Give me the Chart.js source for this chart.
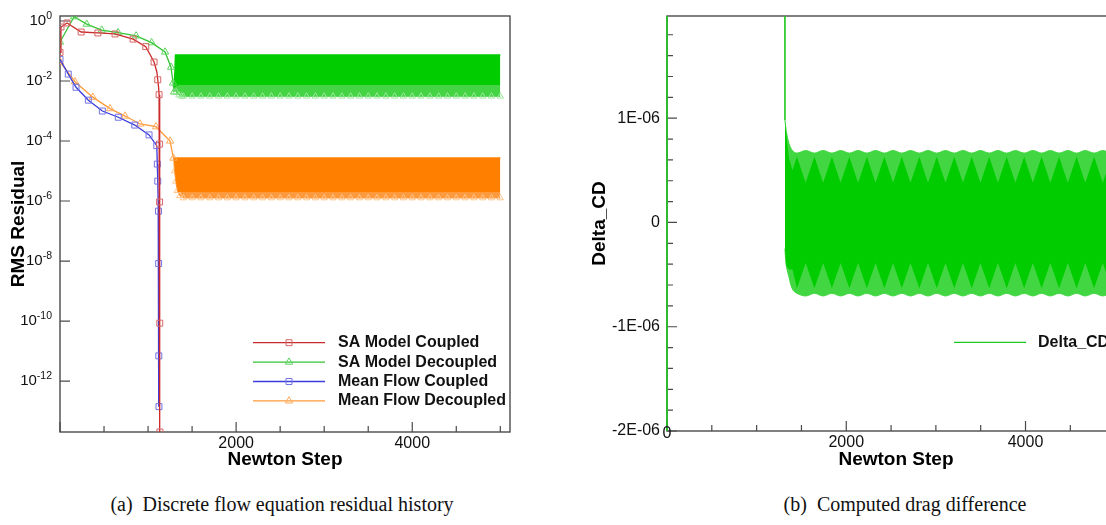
<!DOCTYPE html>
<html>
<head>
<meta charset="utf-8">
<script src="https://cdn.jsdelivr.net/npm/chart.js@4.4.1/dist/chart.umd.min.js"></script>
<style>
  html, body { margin: 0; padding: 0; background: #fff; }
  body { position: relative; width: 1106px; height: 525px; overflow: hidden; }
  #panelA { position: absolute; left: 0; top: 0; width: 580px; height: 480px; }
  #panelB { position: absolute; left: 580px; top: 0; width: 600px; height: 480px; }
  .caption {
    position: absolute; top: 493px; transform: translateX(-50%);
    font-family: "Liberation Serif", "Times New Roman", serif; font-size: 20px;
    color: #111; white-space: nowrap;
  }
</style>
</head>
<body>
<div id="panelA"><canvas id="residualChart" width="580" height="480"></canvas></div>
<div id="panelB"><canvas id="dragChart" width="600" height="480"></canvas></div>
<div class="caption" style="left:282px">(a)&nbsp; Discrete flow equation residual history</div>
<div class="caption" style="left:905px">(b)&nbsp; Computed drag difference</div>

<script>
// ---------------- residual history (left panel) ----------------
const saCoupledStep = [0, 11, 80, 240, 430, 625, 830, 974, 1068, 1100, 1110, 1120, 1125, 1129, 1131, 1133, 1135];
const saCoupledRes  = [0.09, 0.63, 0.86, 0.43, 0.40, 0.37, 0.25, 0.14, 0.043, 0.02, 0.011, 6e-3, 3.5e-3, 7.9e-5, 9.3e-7, 8.5e-11, 2e-14];
const saCoupledMark = [1, 1, 1, 1, 1, 1, 1, 1, 1, 0, 1, 0, 1, 1, 1, 1, 1];

const saDecoupledStep = [0, 160, 303, 474, 660, 864, 1040, 1193, 1261, 1284, 1295];
const saDecoupledRes  = [0.2, 1.39, 0.79, 0.50, 0.41, 0.32, 0.19, 0.093, 0.029, 8.6e-3, 4.3e-3];
const saDecoupledMark = [1, 1, 1, 1, 1, 1, 1, 1, 1, 1, 1];

const mfCoupledStep = [0, 94, 182, 322, 481, 662, 849, 1011, 1099, 1105, 1110, 1115, 1118, 1120, 1122, 1124];
const mfCoupledRes  = [0.053, 0.017, 6.2e-3, 2.3e-3, 1.0e-3, 6.2e-4, 3.4e-4, 1.6e-4, 7e-5, 1.7e-5, 4.6e-6, 9.5e-7, 4.6e-7, 8.3e-9, 6.9e-12, 1.4e-13];
const mfCoupledMark = [1, 1, 1, 1, 1, 1, 1, 1, 1, 1, 1, 0, 1, 1, 1, 1];

const mfDecoupledStep = [0, 170, 372, 568, 739, 909, 1090, 1250, 1270, 1288];
const mfDecoupledRes  = [0.044, 9.5e-3, 2.9e-3, 1.2e-3, 6.8e-4, 3.7e-4, 3.0e-4, 1.0e-4, 5e-5, 2.7e-5];
const mfDecoupledMark = [1, 1, 1, 1, 1, 1, 1, 1, 0, 1];

// limit-cycle bands of the decoupled runs: peak envelope, dense core edge, trough envelope
const saBandTopStep = [1298, 1312, 5000];
const saBandTop     = [6e-3, 0.074, 0.074];
const saBandMidStep = [1300, 1320, 1360, 5000];
const saBandMid     = [6e-3, 6.5e-3, 7.4e-3, 7.4e-3];
const saBandLowStep = [1300, 1320, 1350, 1380, 1400, 1500, 1600, 1700, 1800, 1900, 2000, 2100, 2200, 2300, 2400,
  2500, 2600, 2700, 2800, 2900, 3000, 3100, 3200, 3300, 3400, 3500, 3600, 3700, 3800, 3900, 4000, 4100, 4200,
  4300, 4400, 4500, 4600, 4700, 4800, 4900, 5000];
const saBandLow = [6e-3, 4.3e-3, 3.4e-3, 3.1e-3, 3.1e-3, 3.1e-3, 3.1e-3, 3.1e-3, 3.1e-3, 3.1e-3, 3.1e-3, 3.1e-3, 3.1e-3,
  3.1e-3, 3.1e-3, 3.1e-3, 3.1e-3, 3.1e-3, 3.1e-3, 3.1e-3, 3.1e-3, 3.1e-3, 3.1e-3, 3.1e-3, 3.1e-3, 3.1e-3, 3.1e-3,
  3.1e-3, 3.1e-3, 3.1e-3, 3.1e-3, 3.1e-3, 3.1e-3, 3.1e-3, 3.1e-3, 3.1e-3, 3.1e-3, 3.1e-3, 3.1e-3, 3.1e-3, 3.1e-3];

const mfBandTopStep = [1288, 1298, 5000];
const mfBandTop     = [2.7e-5, 2.7e-5, 2.7e-5];
const mfBandMidStep = [1290, 1315, 1340, 5000];
const mfBandMid     = [2.7e-5, 4.5e-6, 2.0e-6, 2.0e-6];
const mfBandLowStep = [1290, 1300, 1315, 1330, 1360, 1400, 1500, 1600, 1700, 1800, 1900, 2000, 2100, 2200, 2300, 2400,
  2500, 2600, 2700, 2800, 2900, 3000, 3100, 3200, 3300, 3400, 3500, 3600, 3700, 3800, 3900, 4000, 4100, 4200,
  4300, 4400, 4500, 4600, 4700, 4800, 4900, 5000];
const mfBandLow = [2.7e-5, 1e-5, 4.5e-6, 2.2e-6, 1.5e-6, 1.26e-6, 1.26e-6, 1.26e-6, 1.26e-6, 1.26e-6, 1.26e-6, 1.26e-6,
  1.26e-6, 1.26e-6, 1.26e-6, 1.26e-6, 1.26e-6, 1.26e-6, 1.26e-6, 1.26e-6, 1.26e-6, 1.26e-6, 1.26e-6, 1.26e-6,
  1.26e-6, 1.26e-6, 1.26e-6, 1.26e-6, 1.26e-6, 1.26e-6, 1.26e-6, 1.26e-6, 1.26e-6, 1.26e-6, 1.26e-6, 1.26e-6,
  1.26e-6, 1.26e-6, 1.26e-6, 1.26e-6, 1.26e-6, 1.26e-6];

const residualDecades = [0, -2, -4, -6, -8, -10, -12];
const stepTickValues  = [2000, 4000];
const stepTickLabels  = ['2000', '4000'];
const stepMinorTicks  = [500, 1000, 1500, 2500, 3000, 3500, 4500, 5000];

// ---------------- drag difference (right panel) ----------------
const cdStep  = [0, 0, 1315, 1316];
const cdValue = [-4e-6, 4e-6, 4e-6, 0.98e-6];

const cdBandStep = [1316, 1330, 1360, 1400, 1450, 1547, 1645, 1742, 1840, 1937, 2035, 2132, 2230, 2327, 2425, 2522,
  2620, 2717, 2815, 2912, 3010, 3107, 3205, 3302, 3400, 3497, 3595, 3692, 3790, 3887, 3985, 4082, 4180, 4277,
  4375, 4472, 4570, 4667, 4765, 4862, 4960, 5057, 5110];
const cdBandHigh = [0.98e-6, 0.88e-6, 0.76e-6, 0.69e-6, 0.665e-6, 0.69e-6, 0.665e-6, 0.69e-6, 0.665e-6, 0.69e-6,
  0.665e-6, 0.69e-6, 0.665e-6, 0.69e-6, 0.665e-6, 0.69e-6, 0.665e-6, 0.69e-6, 0.665e-6, 0.69e-6, 0.665e-6,
  0.69e-6, 0.665e-6, 0.69e-6, 0.665e-6, 0.69e-6, 0.665e-6, 0.69e-6, 0.665e-6, 0.69e-6, 0.665e-6, 0.69e-6,
  0.665e-6, 0.69e-6, 0.665e-6, 0.69e-6, 0.665e-6, 0.69e-6, 0.665e-6, 0.69e-6, 0.665e-6, 0.69e-6, 0.665e-6];
const cdCoreHigh = [0.98e-6, 0.85e-6, 0.62e-6, 0.5e-6, 0.63e-6, 0.38e-6, 0.63e-6, 0.38e-6, 0.63e-6, 0.38e-6,
  0.63e-6, 0.38e-6, 0.63e-6, 0.38e-6, 0.63e-6, 0.38e-6, 0.63e-6, 0.38e-6, 0.63e-6, 0.38e-6, 0.63e-6,
  0.38e-6, 0.63e-6, 0.38e-6, 0.63e-6, 0.38e-6, 0.63e-6, 0.38e-6, 0.63e-6, 0.38e-6, 0.63e-6, 0.38e-6,
  0.63e-6, 0.38e-6, 0.63e-6, 0.38e-6, 0.63e-6, 0.38e-6, 0.63e-6, 0.38e-6, 0.63e-6, 0.38e-6, 0.63e-6];
const cdCoreLow = [-0.25e-6, -0.41e-6, -0.45e-6, -0.45e-6, -0.63e-6, -0.39e-6, -0.63e-6, -0.39e-6, -0.63e-6, -0.39e-6,
  -0.63e-6, -0.39e-6, -0.63e-6, -0.39e-6, -0.63e-6, -0.39e-6, -0.63e-6, -0.39e-6, -0.63e-6, -0.39e-6, -0.63e-6,
  -0.39e-6, -0.63e-6, -0.39e-6, -0.63e-6, -0.39e-6, -0.63e-6, -0.39e-6, -0.63e-6, -0.39e-6, -0.63e-6, -0.39e-6,
  -0.63e-6, -0.39e-6, -0.63e-6, -0.39e-6, -0.63e-6, -0.39e-6, -0.63e-6, -0.39e-6, -0.63e-6, -0.39e-6, -0.63e-6];
const cdBandLow = [-0.25e-6, -0.41e-6, -0.52e-6, -0.64e-6, -0.68e-6, -0.705e-6, -0.68e-6, -0.705e-6, -0.68e-6, -0.705e-6,
  -0.68e-6, -0.705e-6, -0.68e-6, -0.705e-6, -0.68e-6, -0.705e-6, -0.68e-6, -0.705e-6, -0.68e-6, -0.705e-6, -0.68e-6,
  -0.705e-6, -0.68e-6, -0.705e-6, -0.68e-6, -0.705e-6, -0.68e-6, -0.705e-6, -0.68e-6, -0.705e-6, -0.68e-6, -0.705e-6,
  -0.68e-6, -0.705e-6, -0.68e-6, -0.705e-6, -0.68e-6, -0.705e-6, -0.68e-6, -0.705e-6, -0.68e-6, -0.705e-6, -0.68e-6];

const deltaTickValues = [-2e-6, -1e-6, 0, 1e-6];
const deltaTickLabels = ['-2E-06', '-1E-06', '0', '1E-06'];
const deltaMinorStep  = 2e-7;
const cdStepTickValues = [0, 2000, 4000];
const cdStepTickLabels = ['0', '2000', '4000'];

// ---------------- helpers ----------------
const SANS = '"Liberation Sans", Arial, Helvetica, sans-serif';
Chart.defaults.font.family = SANS;

function points(steps, vals) {
  return steps.map((s, i) => ({ x: s, y: vals[i] }));
}
function radii(marks, r) {
  return marks.map(m => (m ? r : 0));
}

// inward tick marks, plot frame and tick labels in the Tecplot manner
const axisFrame = {
  id: 'axisFrame',
  beforeDatasetsDraw(chart, args, o) {
    const { ctx, chartArea: a, scales: { x, y } } = chart;
    ctx.save();
    ctx.strokeStyle = '#4a4a4a';
    ctx.lineWidth = 1.4;
    ctx.strokeRect(a.left, a.top, a.right - a.left, a.bottom - a.top);
    ctx.lineWidth = 1.2;
    ctx.beginPath();
    (o.xMajor || []).forEach(v => { const p = x.getPixelForValue(v); ctx.moveTo(p, a.bottom); ctx.lineTo(p, a.bottom - 10); });
    (o.xMinor || []).forEach(v => { const p = x.getPixelForValue(v); ctx.moveTo(p, a.bottom); ctx.lineTo(p, a.bottom - 6); });
    (o.yMajor || []).forEach(v => { const p = y.getPixelForValue(v); ctx.moveTo(a.left, p); ctx.lineTo(a.left + 10, p); });
    (o.yMinor || []).forEach(v => { const p = y.getPixelForValue(v); ctx.moveTo(a.left, p); ctx.lineTo(a.left + 6, p); });
    ctx.stroke();
    ctx.restore();
  },
  afterDatasetsDraw(chart, args, o) {
    const { ctx, chartArea: a, scales: { x, y } } = chart;
    ctx.save();
    ctx.fillStyle = '#111';
    ctx.textBaseline = 'middle';
    // step labels under the axis
    ctx.font = '16px ' + SANS;
    ctx.textAlign = 'center';
    (o.xLabels || []).forEach((t, i) => {
      const v = o.xLabelValues[i];
      // the origin label sits tucked into the corner
      const dy = v === 0 ? 3 : 12;
      ctx.fillText(t, x.getPixelForValue(v), a.bottom + dy);
    });
    // plain y labels
    ctx.textAlign = 'right';
    (o.yLabels || []).forEach((t, i) => {
      ctx.fillText(t, a.left - 7, y.getPixelForValue(o.yLabelValues[i]));
    });
    // power-of-ten labels with raised exponents
    (o.decades || []).forEach(e => {
      const py = y.getPixelForValue(Math.pow(10, e));
      const sup = String(e);
      ctx.font = '10.5px ' + SANS;
      const sw = ctx.measureText(sup).width;
      const right = a.left - 8;
      ctx.textAlign = 'left';
      ctx.fillText(sup, right - sw, py - 5);
      ctx.font = '15px ' + SANS;
      ctx.textAlign = 'right';
      ctx.fillText('10', right - sw, py);
    });
    ctx.restore();
  }
};

// series key: line sample, symbol in the middle, bold name
const seriesKey = {
  id: 'seriesKey',
  afterDatasetsDraw(chart, args, o) {
    if (!o || o.x0 === undefined) return;
    const ctx = chart.ctx;
    const items = chart.data.datasets.filter(d => d.inKey);
    ctx.save();
    items.forEach((d, i) => {
      const yy = o.top + i * o.gap;
      ctx.strokeStyle = d.borderColor;
      ctx.lineWidth = 1.3;
      ctx.beginPath(); ctx.moveTo(o.x0, yy); ctx.lineTo(o.x1, yy); ctx.stroke();
      if (d.keySymbol) {
        ctx.strokeStyle = d.pointBorderColor;
        ctx.fillStyle = 'rgba(0,0,0,0)';
        ctx.lineWidth = 1;
        Chart.helpers.drawPoint(ctx, { pointStyle: d.pointStyle, radius: 4.2, borderWidth: 1, rotation: 0 }, (o.x0 + o.x1) / 2, yy);
      }
      ctx.fillStyle = '#111';
      ctx.font = 'bold 16px ' + SANS;
      ctx.textAlign = 'left';
      ctx.textBaseline = 'middle';
      ctx.fillText(d.label, o.textX, yy);
    });
    ctx.restore();
  }
};

const titleFont = { family: SANS, size: 19, weight: 'bold' };

// ---------------- left chart ----------------
const RED = '#cc2a2a', RED_SYM = '#d86464';
const GRN = '#35c435', GRN_SYM = '#5fd35f';
const BLU = '#3c3cdc', BLU_SYM = '#7272e4';
const ORG = '#ff9a3a', ORG_SYM = '#ffaa5c';

new Chart(document.getElementById('residualChart'), {
  type: 'line',
  data: {
    datasets: [
      { label: 'SA Model Coupled', inKey: true, keySymbol: true, data: points(saCoupledStep, saCoupledRes),
        borderColor: RED, borderWidth: 1.3, pointStyle: 'rect', pointRadius: radii(saCoupledMark, 4.2),
        pointBorderColor: RED_SYM, pointBackgroundColor: 'rgba(0,0,0,0)', pointBorderWidth: 1, fill: false },
      { label: 'SA Model Decoupled', inKey: true, keySymbol: true, data: points(saDecoupledStep, saDecoupledRes),
        borderColor: GRN, borderWidth: 1.3, pointStyle: 'triangle', pointRadius: radii(saDecoupledMark, 4.2),
        pointBorderColor: GRN_SYM, pointBackgroundColor: 'rgba(0,0,0,0)', pointBorderWidth: 1, fill: false },
      { label: 'Mean Flow Coupled', inKey: true, keySymbol: true, data: points(mfCoupledStep, mfCoupledRes),
        borderColor: BLU, borderWidth: 1.3, pointStyle: 'rect', pointRadius: radii(mfCoupledMark, 4.2),
        pointBorderColor: BLU_SYM, pointBackgroundColor: 'rgba(0,0,0,0)', pointBorderWidth: 1, fill: false },
      { label: 'Mean Flow Decoupled', inKey: true, keySymbol: true, data: points(mfDecoupledStep, mfDecoupledRes),
        borderColor: ORG, borderWidth: 1.3, pointStyle: 'triangle', pointRadius: radii(mfDecoupledMark, 4.2),
        pointBorderColor: ORG_SYM, pointBackgroundColor: 'rgba(0,0,0,0)', pointBorderWidth: 1, fill: false },
      // SA decoupled band (datasets 4-6)
      { label: 'sa peaks', data: points(saBandTopStep, saBandTop), borderColor: '#00cc00', borderWidth: 1.5,
        pointRadius: 0, fill: false },
      { label: 'sa core', data: points(saBandMidStep, saBandMid), borderColor: 'rgba(0,0,0,0)', borderWidth: 0,
        pointRadius: 0, fill: { target: 4 }, backgroundColor: '#00cc00' },
      { label: 'sa troughs', data: points(saBandLowStep, saBandLow), borderColor: '#3fd33f', borderWidth: 1,
        pointStyle: 'triangle', pointRadius: saBandLowStep.map((s, i) => (i ? 3.6 : 0)),
        pointBorderColor: '#9ce89c', pointBackgroundColor: 'rgba(0,0,0,0)', pointBorderWidth: 1,
        fill: { target: 5 }, backgroundColor: '#44d444' },
      // mean flow decoupled band (datasets 7-9)
      { label: 'mf peaks', data: points(mfBandTopStep, mfBandTop), borderColor: '#ff8000', borderWidth: 1.5,
        pointRadius: 0, fill: false },
      { label: 'mf core', data: points(mfBandMidStep, mfBandMid), borderColor: 'rgba(0,0,0,0)', borderWidth: 0,
        pointRadius: 0, fill: { target: 7 }, backgroundColor: '#ff8000' },
      { label: 'mf troughs', data: points(mfBandLowStep, mfBandLow), borderColor: '#ff9a3a', borderWidth: 1,
        pointStyle: 'triangle', pointRadius: mfBandLowStep.map((s, i) => (i ? 3.6 : 0)),
        pointBorderColor: '#ffc58c', pointBackgroundColor: 'rgba(0,0,0,0)', pointBorderWidth: 1,
        fill: { target: 8 }, backgroundColor: '#ff9a3c' }
    ]
  },
  options: {
    responsive: false, devicePixelRatio: 1, animation: false,
    elements: { line: { tension: 0 } },
    layout: { padding: { left: 0, top: 16, right: 70, bottom: 0 } },
    scales: {
      x: { type: 'linear', min: 0, max: 5110,
        ticks: { display: false }, grid: { display: false }, border: { display: false },
        title: { display: true, text: 'Newton Step', font: titleFont, color: '#000', padding: { top: 0, bottom: 8.6 } },
        afterFit(s) { s.height = 48; } },
      y: { type: 'logarithmic', min: 2e-14, max: 1.47,
        ticks: { display: false }, grid: { display: false }, border: { display: false },
        title: { display: true, text: 'RMS Residual', font: titleFont, color: '#000', padding: { top: 6.9, bottom: 0 } },
        afterFit(s) { s.width = 60; } }
    },
    plugins: {
      legend: { display: false }, tooltip: { enabled: false },
      axisFrame: {
        xMajor: [0].concat(stepTickValues), xMinor: stepMinorTicks,
        xLabels: stepTickLabels, xLabelValues: stepTickValues,
        yMajor: residualDecades.map(e => Math.pow(10, e)), decades: residualDecades
      },
      seriesKey: { x0: 253, x1: 325, textX: 338, top: 342.7, gap: 19.4 }
    }
  },
  plugins: [axisFrame, seriesKey]
});

// ---------------- right chart ----------------
const deltaMinor = [];
for (let v = -2e-6; v < 1.98e-6; v += deltaMinorStep) {
  const r = Math.round(v / 1e-8) * 1e-8;
  if (Math.abs(Math.round(r / 1e-6) * 1e-6 - r) > 1e-9) deltaMinor.push(r);
}
const CD = '#1fc81f';

new Chart(document.getElementById('dragChart'), {
  type: 'line',
  data: {
    datasets: [
      { label: 'Delta_CD', inKey: true, keySymbol: false, data: points(cdStep, cdValue),
        borderColor: CD, borderWidth: 1.6, pointRadius: 0, fill: false,
        clip: { left: 3, top: 0, right: 0, bottom: 0 } },
      // dense core of the oscillation (datasets 1-2)
      { label: 'cd core upper', data: points(cdBandStep, cdCoreHigh), borderColor: 'rgba(0,0,0,0)', borderWidth: 0,
        pointRadius: 0, fill: false },
      { label: 'cd core lower', data: points(cdBandStep, cdCoreLow), borderColor: 'rgba(0,0,0,0)', borderWidth: 0,
        pointRadius: 0, fill: { target: 1 }, backgroundColor: '#00cc00' },
      // outer envelope of the oscillation (datasets 3-4)
      { label: 'cd upper', data: points(cdBandStep, cdBandHigh), borderColor: '#3fd63f', borderWidth: 1,
        tension: 0.35, pointRadius: 0, fill: false },
      { label: 'cd lower', data: points(cdBandStep, cdBandLow), borderColor: '#3fd63f', borderWidth: 1,
        tension: 0.35, pointRadius: 0, fill: { target: 3 }, backgroundColor: '#42d742' }
    ]
  },
  options: {
    responsive: false, devicePixelRatio: 1, animation: false,
    elements: { line: { tension: 0 } },
    layout: { padding: { left: 0, top: 16, right: 55, bottom: 0 } },
    scales: {
      x: { type: 'linear', min: 0, max: 5110,
        ticks: { display: false }, grid: { display: false }, border: { display: false },
        title: { display: true, text: 'Newton Step', font: titleFont, color: '#000', padding: { top: 0, bottom: 8.6 } },
        afterFit(s) { s.height = 49; } },
      y: { type: 'linear', min: -2e-6, max: 1.98e-6,
        ticks: { display: false }, grid: { display: false }, border: { display: false },
        title: { display: true, text: 'Delta_CD', font: titleFont, color: '#000', padding: { top: 8.3, bottom: 0 } },
        afterFit(s) { s.width = 87; } }
    },
    plugins: {
      legend: { display: false }, tooltip: { enabled: false },
      axisFrame: {
        xMajor: cdStepTickValues, xMinor: stepMinorTicks,
        xLabels: cdStepTickLabels, xLabelValues: cdStepTickValues,
        yMajor: deltaTickValues, yMinor: deltaMinor,
        yLabels: deltaTickLabels, yLabelValues: deltaTickValues
      },
      seriesKey: { x0: 374, x1: 446, textX: 458, top: 342.3, gap: 19.4 }
    }
  },
  plugins: [axisFrame, seriesKey]
});
</script>
</body>
</html>
